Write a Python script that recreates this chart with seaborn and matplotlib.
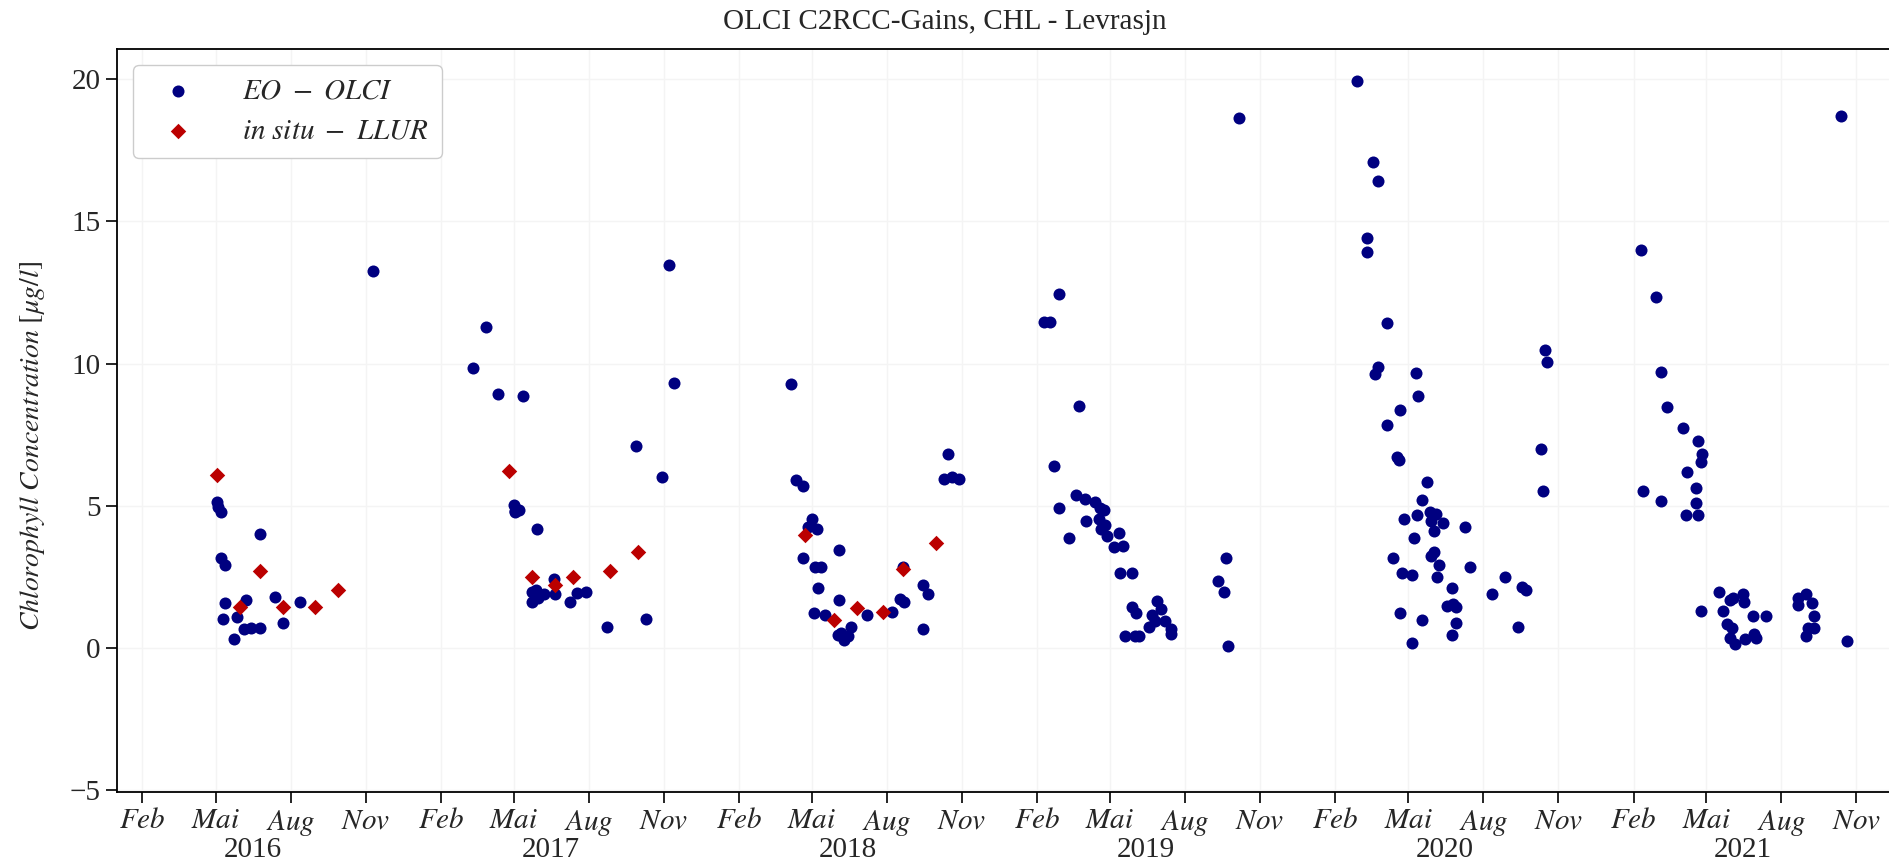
import matplotlib
matplotlib.use("Agg")
import matplotlib.pyplot as plt
import matplotlib.dates as mdates
from matplotlib.ticker import FuncFormatter
import pandas as pd
import seaborn as sns

# Satellite (OLCI C2RCC) chlorophyll retrievals
eo_dates = [
    # 2016
    "2016-05-02", "2016-05-04", "2016-05-08", "2016-05-07", "2016-05-12",
    "2016-06-24", "2016-05-12", "2016-05-10", "2016-05-27", "2016-06-07",
    "2016-05-23", "2016-06-04", "2016-06-13", "2016-06-24", "2016-07-13",
    "2016-07-22", "2016-08-12", "2016-11-10",
    # 2017
    "2017-03-12", "2017-03-28", "2017-04-12", "2017-05-12", "2017-05-01",
    "2017-05-02", "2017-05-03", "2017-05-07", "2017-05-29", "2017-05-24",
    "2017-05-28", "2017-06-07", "2017-05-24", "2017-05-31", "2017-06-19",
    "2017-06-21", "2017-07-09", "2017-07-18", "2017-07-29", "2017-08-23",
    "2017-09-28", "2017-10-30", "2017-10-10", "2017-11-07", "2017-11-14",
    # 2018
    "2018-04-06", "2018-04-12", "2018-04-20", "2018-05-02", "2018-04-27",
    "2018-05-07", "2018-04-20", "2018-06-04", "2018-05-05", "2018-05-13",
    "2018-05-09", "2018-06-03", "2018-05-04", "2018-05-17", "2018-06-06",
    "2018-06-10", "2018-06-18", "2018-06-02", "2018-06-14", "2018-07-08",
    "2018-08-08", "2018-08-21", "2018-08-17", "2018-08-22", "2018-09-14",
    "2018-09-21", "2018-09-14", "2018-10-15", "2018-10-10", "2018-10-20",
    "2018-10-29",
    # 2019
    "2019-02-28", "2019-02-10", "2019-02-17", "2019-03-25", "2019-02-22",
    "2019-02-28", "2019-03-12", "2019-03-21", "2019-04-01", "2019-04-13",
    "2019-04-19", "2019-04-24", "2019-04-02", "2019-04-18", "2019-04-26",
    "2019-04-20", "2019-04-28", "2019-05-12", "2019-05-06", "2019-05-18",
    "2019-05-14", "2019-05-29", "2019-05-28", "2019-06-02", "2019-05-20",
    "2019-06-01", "2019-06-06", "2019-06-28", "2019-07-03", "2019-06-22",
    "2019-06-26", "2019-06-18", "2019-07-08", "2019-07-15", "2019-07-15",
    "2019-10-07", "2019-09-21", "2019-09-11", "2019-09-18", "2019-09-23",
    # 2020
    "2020-02-28", "2020-03-19", "2020-03-25", "2020-03-12", "2020-03-12",
    "2020-04-05", "2020-03-25", "2020-03-21", "2020-05-11", "2020-05-13",
    "2020-04-21", "2020-04-05", "2020-04-17", "2020-04-20", "2020-05-24",
    "2020-05-18", "2020-04-26", "2020-05-12", "2020-05-28", "2020-06-04",
    "2020-05-29", "2020-06-12", "2020-06-02", "2020-07-10", "2020-05-08",
    "2020-04-12", "2020-06-01", "2020-05-29", "2020-06-08", "2020-07-16",
    "2020-04-23", "2020-05-06", "2020-06-05", "2020-06-24", "2020-06-17",
    "2020-06-25", "2020-06-28", "2020-08-27", "2020-08-12", "2020-04-21",
    "2020-05-18", "2020-06-29", "2020-06-24", "2020-05-06", "2020-09-17",
    "2020-09-22", "2020-09-13", "2020-10-16", "2020-10-18", "2020-10-11",
    "2020-10-13",
    # 2021
    "2021-02-10", "2021-03-01", "2021-03-07", "2021-03-14", "2021-04-03",
    "2021-04-21", "2021-04-26", "2021-04-24", "2021-04-08", "2021-04-19",
    "2021-02-12", "2021-03-07", "2021-04-19", "2021-04-06", "2021-04-21",
    "2021-04-24", "2021-05-17", "2021-05-30", "2021-06-03", "2021-06-15",
    "2021-06-16", "2021-05-21", "2021-06-27", "2021-07-13", "2021-05-26",
    "2021-06-01", "2021-05-30", "2021-06-05", "2021-06-18", "2021-06-28",
    "2021-07-01", "2021-08-22", "2021-08-31", "2021-09-08", "2021-08-22",
    "2021-09-10", "2021-09-03", "2021-09-10", "2021-08-31", "2021-10-13",
    "2021-10-20",
]
eo_chl = [
    # 2016
    5.13, 4.95, 4.79, 3.17, 2.90, 3.99, 1.57, 1.02, 1.09, 1.68,
    0.31, 0.65, 0.71, 0.71, 1.80, 0.86, 1.61, 13.24,
    # 2017
    9.86, 11.28, 8.93, 8.87, 5.04, 4.79, 4.82, 4.86, 4.17, 1.98,
    2.05, 1.88, 1.61, 1.77, 2.43, 1.88, 1.61, 1.94, 1.98, 0.73,
    7.09, 6.01, 1.00, 13.46, 9.32,
    # 2018
    9.27, 5.89, 5.68, 4.54, 4.24, 4.17, 3.17, 3.45, 2.84, 2.84,
    2.09, 1.68, 1.23, 1.16, 0.54, 0.27, 0.75, 0.47, 0.41, 1.16,
    1.27, 2.83, 1.71, 1.61, 2.22, 1.91, 0.65, 6.82, 5.94, 6.00,
    5.94,
    # 2019
    12.43, 11.47, 11.47, 8.52, 6.41, 4.93, 3.86, 5.38, 5.24, 5.13,
    4.93, 4.86, 4.45, 4.52, 4.31, 4.17, 3.94, 4.04, 3.56, 3.58,
    2.63, 2.63, 1.43, 1.23, 0.41, 0.43, 0.41, 1.64, 1.36, 1.16,
    0.95, 0.75, 0.93, 0.48, 0.68, 18.65, 3.17, 2.37, 1.95, 0.06,
    # 2020
    19.95, 17.09, 16.43, 14.41, 13.93, 11.42, 9.89, 9.65, 9.68, 8.87,
    8.38, 7.83, 6.73, 6.60, 5.82, 5.20, 4.52, 4.68, 4.79, 4.72,
    4.45, 4.38, 4.10, 4.27, 3.86, 3.17, 3.39, 3.24, 2.90, 2.83,
    2.63, 2.56, 2.49, 2.09, 1.47, 1.53, 1.43, 2.49, 1.89, 1.23,
    0.99, 0.89, 0.47, 0.19, 2.14, 2.04, 0.72, 10.48, 10.04, 7.00,
    5.51,
    # 2021
    13.99, 12.35, 9.71, 8.49, 7.73, 7.27, 6.83, 6.54, 6.19, 5.64,
    5.51, 5.18, 5.10, 4.69, 4.69, 1.31, 1.96, 1.67, 1.77, 1.89,
    1.63, 1.31, 1.12, 1.12, 0.84, 0.69, 0.36, 0.14, 0.31, 0.50,
    0.36, 1.77, 1.89, 1.57, 1.51, 1.12, 0.69, 0.69, 0.43, 18.72,
    0.25,
]

# In-situ samples (LLUR)
insitu_dates = [
    "2016-05-03", "2016-05-31", "2016-06-24", "2016-07-22", "2016-08-31",
    "2016-09-28",
    "2017-04-25", "2017-05-23", "2017-06-20", "2017-07-13", "2017-08-27",
    "2017-09-30",
    "2018-04-23", "2018-05-29", "2018-06-26", "2018-07-28", "2018-08-21",
    "2018-09-30",
]
insitu_chl = [
    6.08, 1.43, 2.69, 1.43, 1.43, 2.05,
    6.23, 2.49, 2.23, 2.49, 2.69, 3.38,
    3.97, 0.98, 1.41, 1.27, 2.76, 3.69,
]

month_names = {2: "Feb", 5: "Mai", 8: "Aug", 11: "Nov"}
yticks = [-5, 0, 5, 10, 15, 20]

sns.set_theme(style="white")
plt.rcParams["font.family"] = ["Liberation Serif", "DejaVu Serif"]
plt.rcParams["mathtext.fontset"] = "stix"

W, H = 1889, 865
fig = plt.figure(figsize=(W / 100, H / 100), dpi=100)
ax = fig.add_axes([117 / W, 73.5 / H, 1789.2 / W, 742.1 / H])

eo = pd.DataFrame({"date": pd.to_datetime(eo_dates), "chl": eo_chl})
ins = pd.DataFrame({"date": pd.to_datetime(insitu_dates), "chl": insitu_chl})

sns.scatterplot(data=eo, x="date", y="chl", ax=ax, color="#000080",
                marker="o", s=75, linewidth=0, zorder=3,
                label=r"$EO\ -\ OLCI$")
sns.scatterplot(data=ins, x="date", y="chl", ax=ax, color="#BB0000",
                marker="D", s=62, linewidth=0, zorder=4,
                label=r"$in\ situ\ -\ LLUR$")

ax.set_xlim(pd.Timestamp("2016-01-01"), pd.Timestamp("2022-01-01"))
ax.set_ylim(-5.05, 21.05)
ax.set_yticks(yticks)
ax.set_yticklabels([str(v).replace("-", "\u2212") for v in yticks])

ax.xaxis.set_major_locator(mdates.MonthLocator(bymonth=list(month_names)))
ax.xaxis.set_major_formatter(FuncFormatter(
    lambda v, p: "$" + month_names[mdates.num2date(v).month] + "$"))
ax.xaxis.set_minor_locator(mdates.MonthLocator(bymonth=6, bymonthday=15))
ax.xaxis.set_minor_formatter(mdates.DateFormatter("%Y"))

ax.tick_params(axis="both", which="major", direction="out", length=8,
               width=1.2, color="black", labelsize=21, pad=4,
               bottom=True, left=True)
ax.tick_params(axis="x", which="minor", length=0, pad=33, labelsize=21,
               bottom=True)

ax.grid(True, which="major", color="#f4f4f4", linewidth=1.0)
ax.grid(False, which="minor")
for side in ax.spines.values():
    side.set_color("black")
    side.set_linewidth(1.3)

ax.set_xlabel("")
ax.set_ylabel(r"$Chlorophyll\ Concentration\ [\mu g/l]$", fontsize=20)
ax.yaxis.set_label_coords(-0.039, 0.465)

fig.suptitle("OLCI C2RCC-Gains, CHL - Levrasjn", x=0.5, y=1 - 9 / H,
             va="top", fontsize=21)

ax.legend(loc="upper left", fontsize=21, frameon=True, fancybox=True,
          edgecolor="#cccccc", framealpha=1.0, borderpad=0.45,
          handletextpad=1.1, handlelength=2.2, labelspacing=0.45,
          borderaxespad=0.55)

fig.savefig("out.png", dpi=100)
